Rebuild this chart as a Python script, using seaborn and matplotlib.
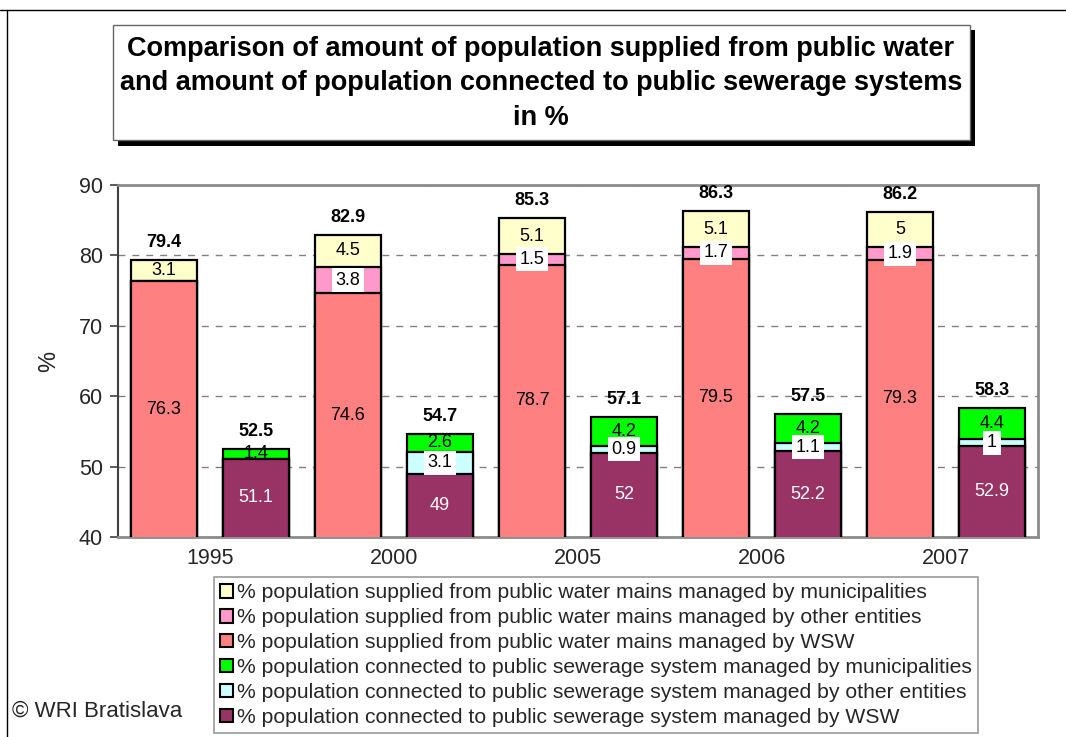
import matplotlib
matplotlib.use("Agg")
import matplotlib.pyplot as plt
from matplotlib.patches import Rectangle, Patch
from matplotlib.lines import Line2D
import seaborn as sns
import pandas as pd

years = ["1995", "2000", "2005", "2006", "2007"]

# water supply (% of population)
water_wsw = [76.3, 74.6, 78.7, 79.5, 79.3]
water_other = [0, 3.8, 1.5, 1.7, 1.9]
water_muni = [3.1, 4.5, 5.1, 5.1, 5.0]

# public sewerage (% of population)
sewer_wsw = [51.1, 49.0, 52.0, 52.2, 52.9]
sewer_other = [0, 3.1, 0.9, 1.1, 1.0]
sewer_muni = [1.4, 2.6, 4.2, 4.2, 4.4]

legend_labels = [
    "% population supplied from public water mains managed by municipalities",
    "% population supplied from public water mains managed by other entities",
    "% population supplied from public water mains managed by WSW",
    "% population connected to public sewerage system managed by municipalities",
    "% population connected to public sewerage system managed by other entities",
    "% population connected to public sewerage system managed by WSW",
]

colors = {
    "water_muni": "#FFFFCC", "water_other": "#FF99CC", "water_wsw": "#FF8080",
    "sewer_muni": "#00FF00", "sewer_other": "#CCFFFF", "sewer_wsw": "#993366",
}

sns.set_theme(style="white")
plt.rcParams["font.family"] = ["Liberation Sans", "DejaVu Sans"]

rows = []
for i, y in enumerate(years):
    for system, wsw, oth, mun in (("water", water_wsw[i], water_other[i], water_muni[i]),
                                  ("sewer", sewer_wsw[i], sewer_other[i], sewer_muni[i])):
        rows.append({"year": y, "system": system, "wsw": wsw, "other": oth, "muni": mun,
                     "mid": wsw + oth, "total": wsw + oth + mun})
df = pd.DataFrame(rows)

fig = plt.figure(figsize=(10.66, 7.37), dpi=100)
ax = fig.add_axes([118 / 1066, 1 - 537 / 737, 920 / 1066, 352 / 737])

common = dict(data=df, x="year", hue="system", hue_order=["water", "sewer"],
              order=years, width=1.0, gap=0.28, dodge=True, saturation=1,
              edgecolor="black", linewidth=1.6, legend=False, ax=ax, zorder=3)

# stacked bars drawn as overlaid cumulative heights, top layer first
sns.barplot(y="total", palette={"water": colors["water_muni"], "sewer": colors["sewer_muni"]}, **common)
sns.barplot(y="mid", palette={"water": colors["water_other"], "sewer": colors["sewer_other"]}, **common)
sns.barplot(y="wsw", palette={"water": colors["water_wsw"], "sewer": colors["sewer_wsw"]}, **common)

ax.set_ylim(40, 90)
ax.set_yticks(range(40, 91, 10))
ax.set_xlim(-0.5, len(years) - 0.5)
ax.set_xlabel("")
ax.set_ylabel("%", fontsize=17, labelpad=13)

ax.yaxis.grid(True, linestyle=(0, (5, 5)), color="#808080", linewidth=1.0, zorder=0)
ax.set_axisbelow(True)
for side in ("top", "right", "bottom"):
    ax.spines[side].set_color("#8c8c8c")
    ax.spines[side].set_linewidth(2)
ax.spines["left"].set_color("#404040")
ax.spines["left"].set_linewidth(1.5)
ax.tick_params(axis="y", which="major", length=6, width=1.2, color="#404040",
               labelsize=15.5, pad=5, left=True, direction="out")
ax.tick_params(axis="x", length=0, labelsize=15.5, pad=8)

water_x = [p.get_x() + p.get_width() / 2 for p in ax.containers[0]]
sewer_x = [p.get_x() + p.get_width() / 2 for p in ax.containers[1]]

lab_fs = 13
white_box = dict(boxstyle="square,pad=0.2", facecolor="white", edgecolor="none")


def fmt(v):
    return f"{v:g}"


for i in range(len(years)):
    for xs, wsw, oth, mun, wsw_col in ((water_x, water_wsw, water_other, water_muni, "black"),
                                       (sewer_x, sewer_wsw, sewer_other, sewer_muni, "white")):
        x = xs[i]
        ax.text(x, 40 + (wsw[i] - 40) / 2, fmt(wsw[i]), ha="center", va="center",
                fontsize=lab_fs, color=wsw_col, zorder=5)
        if oth[i] > 0:
            ax.text(x, wsw[i] + oth[i] / 2, fmt(oth[i]), ha="center", va="center",
                    fontsize=lab_fs, color="black", bbox=white_box, zorder=6)
        if mun[i] > 0:
            ax.text(x, wsw[i] + oth[i] + mun[i] / 2, fmt(mun[i]), ha="center", va="center",
                    fontsize=lab_fs, color="black", zorder=5)
        total = round(wsw[i] + oth[i] + mun[i], 1)
        ax.annotate(fmt(total), (x, total), xytext=(0, 12.5), textcoords="offset points",
                    ha="center", va="center", fontsize=lab_fs, fontweight="bold",
                    color="black", zorder=6, annotation_clip=False)

# title box with drop shadow
W, H = 1066, 737
def fig_rect(x0, y0, x1, y1, **kw):
    return Rectangle((x0 / W, 1 - y1 / H), (x1 - x0) / W, (y1 - y0) / H,
                     transform=fig.transFigure, **kw)

fig.patches.append(fig_rect(118, 30, 975, 146, facecolor="black", edgecolor="none", zorder=1))
fig.patches.append(fig_rect(113, 25, 970, 140, facecolor="white", edgecolor="#666666",
                            linewidth=1.0, zorder=2))
title_lines = ["Comparison of amount of population supplied from public water",
               "and amount of population connected to public sewerage systems",
               "in %"]
for k, line in enumerate(title_lines):
    fig.text(541 / W, 1 - (49 + 34.5 * k) / H, line, ha="center", va="center",
             fontsize=19.5, fontweight="bold", color="black", zorder=3)

# outer frame lines
fig.lines.append(Line2D([7 / W, 7 / W], [0, 1 - 10 / H], transform=fig.transFigure,
                        color="black", linewidth=1.0))
fig.lines.append(Line2D([0, 1], [1 - 10 / H, 1 - 10 / H], transform=fig.transFigure,
                        color="black", linewidth=1.0))

# legend
order = ["water_muni", "water_other", "water_wsw", "sewer_muni", "sewer_other", "sewer_wsw"]
handles = [Patch(facecolor=colors[k], edgecolor="black", linewidth=1.5) for k in order]
leg = fig.legend(handles, legend_labels, loc="upper left",
                 bbox_to_anchor=(214 / W, 1 - 577 / H), bbox_transform=fig.transFigure,
                 fontsize=15.2, frameon=True, fancybox=False, shadow=False,
                 handlelength=0.6, handleheight=0.6, handletextpad=0.2,
                 labelspacing=0.28, borderpad=0.3, borderaxespad=0)
leg.get_frame().set_edgecolor("#808080")
leg.get_frame().set_linewidth(1.2)

fig.text(12 / W, 1 - 711 / H, "© WRI Bratislava", ha="left", va="center", fontsize=16)

fig.savefig("out.png", dpi=100, facecolor="white")
